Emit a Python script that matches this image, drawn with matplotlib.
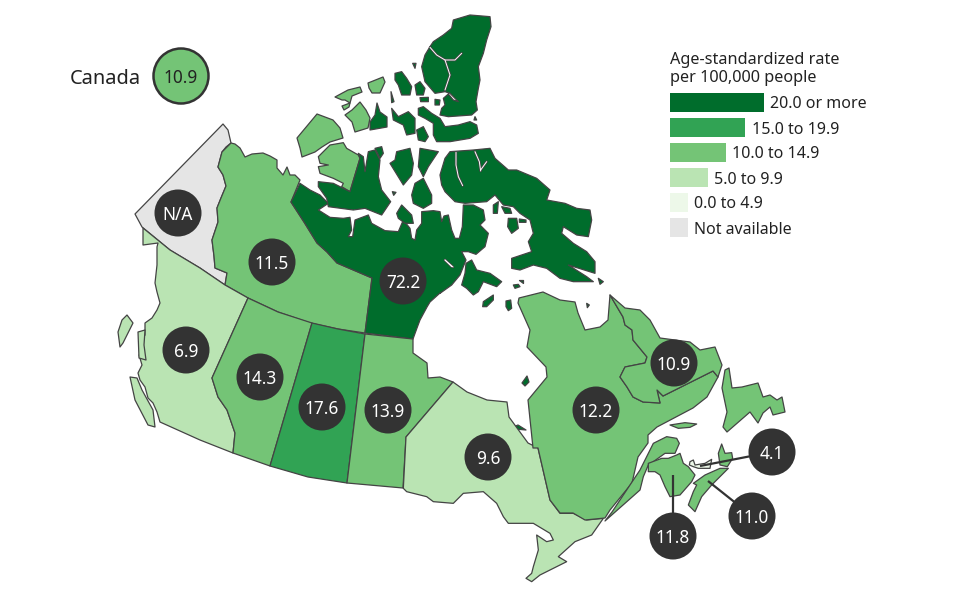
import matplotlib
matplotlib.use("Agg")
import matplotlib.pyplot as plt
from matplotlib.patches import Polygon, Circle, Rectangle

plt.rcParams['font.family'] = ['Noto Sans', 'Open Sans', 'DejaVu Sans']

# ---- data ----
regions = ["YT", "NT", "NU", "BC", "AB", "SK", "MB", "ON", "QC", "NL", "NB", "NS", "PE"]
rates = [None, 11.5, 72.2, 6.9, 14.3, 17.6, 13.9, 9.6, 12.2, 10.9, 11.8, 11.0, 4.1]
national_label = "Canada"
national_rate = 10.9
legend_title = ["Age-standardized rate", "per 100,000 people"]
legend_labels = ["20.0 or more", "15.0 to 19.9", "10.0 to 14.9", "5.0 to 9.9", "0.0 to 4.9", "Not available"]
legend_lengths = [94, 75, 56, 38, 18, 18]

# ---- colours ----
C_BINS = ["#006d2c", "#31a354", "#74c476", "#bae4b3", "#edf8e9", "#e5e5e5"]
EDGE = "#444444"
DARK = "#333333"


def bin_index(v):
    if v is None:
        return 5
    if v >= 20:
        return 0
    if v >= 15:
        return 1
    if v >= 10:
        return 2
    if v >= 5:
        return 3
    return 4


def tr(x0, y0, pts):
    """Geography traced on a 3x enlargement whose corner is (x0, y0)."""
    return [(x0 + u / 3, y0 + v / 3) for u, v in pts]


# ---- map outlines (traced geography, image pixel space) ----
outlines = {
    "YT": [[(223,124),(228,130),(231,143),(226,147),(222,152),(218,167),(223,175),(226,186),(221,198),(217,208),(218,222),(212,240),(214,256),(215,268),(227,273),(225,285),(200,268),(170,250),(142,227),(135,214)]],
    "NT": [
        [(231,143),(235,144),(240,148),(245,157),(252,154),(263,153),(270,156),(277,160),(277,168),(283,175),(287,167),(290,175),(295,175),(300,180),(291,202),(304,222),(317,243),(327,252),(337,263),(372,278),(365,333),(338,329),(310,323),(278,312),(248,298),(225,285),(227,273),(215,268),(214,256),(212,240),(218,222),(217,208),(221,198),(226,186),(223,175),(218,167),(222,152)],
        [(317,114),(333,120),(340,128),(343,138),(330,142),(322,147),(315,152),(302,157),(300,148),(297,138)],
        tr(300,140,[(60,45),(90,15),(130,8),(140,25),(175,45),(180,55),(150,155),(125,140),(130,130),(100,115),(60,100),(55,80),(85,75),(60,70),(55,50)]),
        [(345,115),(352,110),(360,102),(366,110),(370,118),(368,128),(355,132),(352,122)],
        [(335,97),(348,90),(360,87),(362,92),(352,96),(350,103),(345,100),(342,100)],
        [(342,106),(350,103),(349,107),(344,110)],
        [(368,83),(383,77),(385,82),(380,93),(372,93),(369,88)],
    ],
    "NU": [
        # mainland
        tr(300,140,[(0,130),(30,150),(60,165),(85,190),(55,210),(90,232),(130,235),(150,232),(155,270),(145,290),(158,290),(165,240),(205,225),(215,250),(255,272),(295,275),(310,240),(330,265),(335,295),(345,300),(350,270),(365,250),(365,215),(400,212),(420,215),(425,245),(432,228),(445,225),(455,270),(465,295),(478,295),(487,260),(490,195)])
        + tr(440,145,[(72,180),(100,180),(130,195),(135,225),(120,240),(145,265),(135,305),(108,328),(85,320),(65,320),(78,345),(60,390),(35,420),(0,445)])
        + [(440,293),(430,302),(427,307),(420,320),(417,328),(413,339),(365,333),(372,278),(337,263),(327,252),(317,243),(304,222),(291,202)],
        # Victoria (east)
        tr(300,140,[(175,40),(190,50),(195,95),(205,35),(225,30),(240,60),(235,110),(245,150),(272,185),(245,225),(195,205),(160,210),(85,200),(80,175),(55,140),(55,125),(100,130),(150,155),(180,55)]),
        tr(300,140,[(225,25),(245,20),(250,40),(240,55)]),
        # Prince of Wales, Somerset, Boothia area, King William
        tr(300,140,[(290,35),(330,25),(340,70),(335,105),(310,135),(270,70),(285,60)]),
        tr(300,140,[(360,25),(415,35),(385,80),(370,110),(355,80)]),
        tr(300,140,[(345,130),(370,115),(395,165),(395,190),(370,205),(340,190),(335,165)]),
        tr(300,140,[(290,220),(305,195),(335,225),(340,250),(315,250),(295,235)]),
        tr(300,140,[(277,155),(288,157),(281,166)]),
        # Baffin
        tr(440,145,[(5,120),(0,90),(15,40),(30,20),(58,18),(100,15),(150,10),(165,40),(205,75),(230,75),(290,100),(330,135),(320,165),(375,175),(410,190),(450,195),(455,225),(445,275),(410,270),(370,245),(365,265),(400,295),(440,320),(465,350),(465,385),(385,360),(440,395),(460,410),(400,410),(360,400),(320,370),(280,360),(240,375),(215,370),(215,340),(275,320),(265,290),(280,265),(270,225),(240,205),(220,185),(190,180),(165,150),(140,170),(75,175),(45,170),(15,140)]),
        # Southampton and Hudson Bay / Foxe Basin islands
        tr(440,145,[(78,355),(95,345),(110,375),(150,385),(185,410),(170,425),(130,410),(115,440),(100,450),(80,430),(65,420),(75,385)]),
        tr(440,145,[(130,470),(160,450),(160,465),(140,485),(128,485)]),
        tr(440,145,[(198,468),(212,465),(215,490),(205,497),(198,485)]),
        tr(440,145,[(220,420),(235,418),(240,425),(225,430)]),
        tr(440,145,[(238,405),(250,405),(250,415)]),
        tr(440,145,[(205,220),(230,220),(235,250),(215,265),(203,245)]),
        tr(440,145,[(160,180),(175,170),(172,205),(160,205)]),
        tr(440,145,[(185,185),(210,190),(215,205),(195,205)]),
        tr(440,145,[(238,222),(258,225),(258,232),(238,232)]),
        tr(440,145,[(475,400),(490,410),(480,418)]),
        tr(440,145,[(440,475),(448,480),(442,488)]),
        # Ellesmere + Axel Heiberg
        tr(390,10,[(130,95),(160,75),(185,55),(190,30),(240,15),(300,20),(303,50),(290,90),(280,130),(265,170),(270,210),(265,235),(258,275),(262,300),(245,315),(175,320),(150,315),(155,295),(165,285),(160,265),(175,252),(190,270),(205,275),(180,250),(165,245),(135,250),(105,215),(95,170),(105,135),(120,110)]),
        # Queen Elizabeth group
        tr(390,10,[(15,190),(35,185),(50,205),(65,230),(60,255),(35,255),(25,225),(15,210)]),
        tr(390,10,[(75,225),(90,215),(105,235),(100,255),(80,255)]),
        tr(390,10,[(68,160),(78,160),(75,175)]),
        tr(390,10,[(3,245),(12,275),(5,278)]),
        tr(390,10,[(90,263),(115,262),(115,275),(92,275)]),
        tr(390,10,[(135,268),(150,270),(148,285),(135,285)]),
        tr(390,10,[(85,295),(100,290),(125,310),(150,325),(165,350),(205,345),(240,335),(260,345),(265,370),(240,385),(180,395),(140,395),(130,375),(130,340),(105,325),(85,315)]),
        tr(390,10,[(5,295),(25,320),(55,305),(75,325),(75,370),(50,375),(40,345),(10,330)]),
        tr(390,10,[(80,360),(100,350),(115,380),(105,395),(85,390)]),
        tr(390,10,[(255,320),(260,330),(252,330)]),
        [(370,122),(375,115),(377,103),(380,112),(387,117),(387,127),(370,130)],
        # James Bay islands
        [(522,383),(527,376),(529,382),(525,386)],
        [(513,427),(518,425),(526,430),(515,429)],
    ],
    "BC": [
        [(143,228),(170,250),(200,268),(225,285),(248,298),(212,378),(218,397),(227,410),(235,433),(233,453),(200,440),(160,422),(157,412),(153,403),(148,398),(145,387),(140,380),(138,373),(142,365),(139,355),(143,350),(140,343),(145,335),(145,323),(152,318),(157,310),(160,303),(157,292),(155,283),(157,265),(157,247),(158,243),(143,245)],
        [(130,377),(137,378),(142,390),(153,410),(155,427),(148,425),(135,400)],
        [(122,320),(127,315),(133,323),(123,343),(120,347),(118,332)],
        [(138,332),(145,330),(144,345),(146,360),(139,358)],
    ],
    "AB": [[(248,298),(278,312),(312,323),(270,466),(233,453),(235,433),(227,410),(218,397),(212,378)]],
    "SK": [[(312,323),(338,329),(365,334),(347,483),(308,477),(270,466)]],
    "MB": [[(365,334),(413,339),(413,353),(427,363),(428,378),(440,377),(453,382),(406,437),(403,488),(347,483)]],
    "ON": [[(453,382),(467,392),(487,400),(507,402),(509,417),(528,443),(538,448)]
           + tr(390,340,[(480,480),(510,520),(550,520),(590,540),(640,535),(605,585),(555,605),(505,650),(530,665),(450,705),(425,725),(408,715),(425,700),(430,680),(445,630),(440,585),(470,605),(490,600),(480,580),(430,550),(355,550),(340,530),(320,490),(280,455),(220,460),(190,490),(130,485),(110,470),(50,455),(40,445)])
           + [(406,437)]],
    "QC": [
        [(519,298),(543,292),(560,300),(575,302),(578,313),(585,330),(600,327),(608,320),(610,295),(623,317),(625,325),(632,330),(633,340),(647,357),(645,363),(625,367),(620,377),(627,387),(633,397),(643,402),(660,403),(657,390),(663,396),(713,371),(718,377),(707,397),(693,408),(657,427),(648,435),(648,443),(638,457),(632,483),(610,510),(605,518),(585,520),(573,513),(560,513),(550,500),(538,448),(533,448),(528,400),(547,377),(546,367),(527,347),(530,330),(518,303)],
        [(605,521),(612,512),(640,470)] + tr(640,420,[(40,70),(80,50),(110,55),(118,70),(105,100),(75,100),(40,125),(25,135),(10,170),(0,210)]),
        tr(640,420,[(90,15),(135,8),(170,12),(150,22),(115,25)]),
    ],
    "NL": [
        [(610,295),(625,308),(640,310),(650,320),(660,338),(690,342),(700,350),(715,347),(722,365),(718,377),(713,371),(663,396),(657,390),(660,403),(643,402),(633,397),(627,387),(620,377),(625,367),(645,363),(647,357),(633,340),(632,330),(625,325),(623,317)],
        [(725,370),(729,368),(732,388),(742,387),(758,383),(763,397),(770,395),(777,400),(782,397),(785,412),(773,415),(770,407),(763,413),(758,423),(750,412),(727,432),(723,427),(727,412),(722,388)],
    ],
    "NB": [tr(640,420,[(25,130),(65,115),(85,115),(110,105),(120,100),(130,130),(145,140),(165,165),(155,185),(120,225),(90,230),(75,200),(60,165),(45,155),(25,155)])],
    "NS": [
        tr(640,420,[(160,190),(195,165),(240,145),(265,145),(240,170),(215,195),(185,230),(165,275),(145,255),(160,215),(170,195)]),
        tr(640,420,[(235,100),(245,72),(255,100),(275,98),(278,115),(262,140),(240,135)]),
    ],
    "PE": [tr(640,420,[(150,125),(160,120),(165,135),(195,130),(215,118),(210,145),(175,145),(160,140),(148,135)])],
}

# narrow channels cut through the land
channels = [
    tr(390,10,[(120,112),(140,135),(165,150),(195,150),(215,130)]),
    tr(390,10,[(165,150),(180,195),(165,240)]),
    tr(440,145,[(48,22),(48,60),(55,95),(68,122)]),
    tr(440,145,[(105,20),(118,50),(122,78)]),
    tr(440,145,[(122,75),(140,50)]),
    tr(440,145,[(15,345),(35,365)]),
    [(445,260),(453,267)],
]

# label-circle layout
badge_centres = {
    "YT": (178, 213), "NT": (272, 262), "NU": (403, 281), "BC": (186, 350),
    "AB": (260, 377), "SK": (322, 407), "MB": (388, 410), "ON": (488, 457),
    "QC": (596, 410), "NL": (674, 363), "NB": (673, 536), "NS": (752, 516), "PE": (772, 452),
}
leaders = {"NB": (673, 475), "NS": (708, 481), "PE": (700, 466)}

fig = plt.figure(figsize=(9.6, 6.03), dpi=100)
ax = fig.add_axes([0, 0, 1, 1])
ax.set_xlim(0, 960)
ax.set_ylim(603, 0)
ax.axis("off")

for name, rate in zip(regions, rates):
    colour = C_BINS[bin_index(rate)]
    for pts in outlines[name]:
        ax.add_patch(Polygon(pts, closed=True, facecolor=colour, edgecolor=EDGE,
                             linewidth=0.9, joinstyle="round", zorder=2))

for path in channels:
    xs, ys = zip(*path)
    ax.plot(xs, ys, color=EDGE, lw=1.8, zorder=2.1, solid_capstyle="round")
    ax.plot(xs, ys, color="white", lw=0.7, zorder=2.2, solid_capstyle="round")

for name, start in leaders.items():
    cx, cy = badge_centres[name]
    ax.plot([start[0], cx], [start[1], cy], color=DARK, lw=1.6, zorder=3,
            solid_capstyle="butt")

for name, rate in zip(regions, rates):
    cx, cy = badge_centres[name]
    ax.add_patch(Circle((cx, cy), 23.5, facecolor=DARK, edgecolor="none", zorder=4))
    text = "N/A" if rate is None else f"{rate:.1f}"
    ax.text(cx, cy, text, color="white", fontsize=12.4, ha="center",
            va="center_baseline", zorder=5)

# national badge
ax.add_patch(Circle((181, 76), 27.5, facecolor=C_BINS[bin_index(national_rate)],
                    edgecolor=DARK, linewidth=1.8, zorder=4))
ax.text(181, 76, f"{national_rate:.1f}", color="#222222", fontsize=12.4, ha="center",
        va="center_baseline", zorder=5)
ax.text(141, 76, national_label, color="#222222", fontsize=14.4, ha="right",
        va="center_baseline")

# legend
ax.text(670, 58, legend_title[0], fontsize=11.7, color="#222222", va="center_baseline")
ax.text(670, 76, legend_title[1], fontsize=11.7, color="#222222", va="center_baseline")
row_tops = [93, 118, 143, 168, 193, 218]
for colour, label, length, top in zip(C_BINS, legend_labels, legend_lengths, row_tops):
    ax.add_patch(Rectangle((670, top), length, 19, facecolor=colour, edgecolor="none"))
    ax.text(670 + length + 6.5, top + 9.5, label, fontsize=11.5, color="#222222",
            va="center_baseline")

fig.savefig("out.png", dpi=100)
